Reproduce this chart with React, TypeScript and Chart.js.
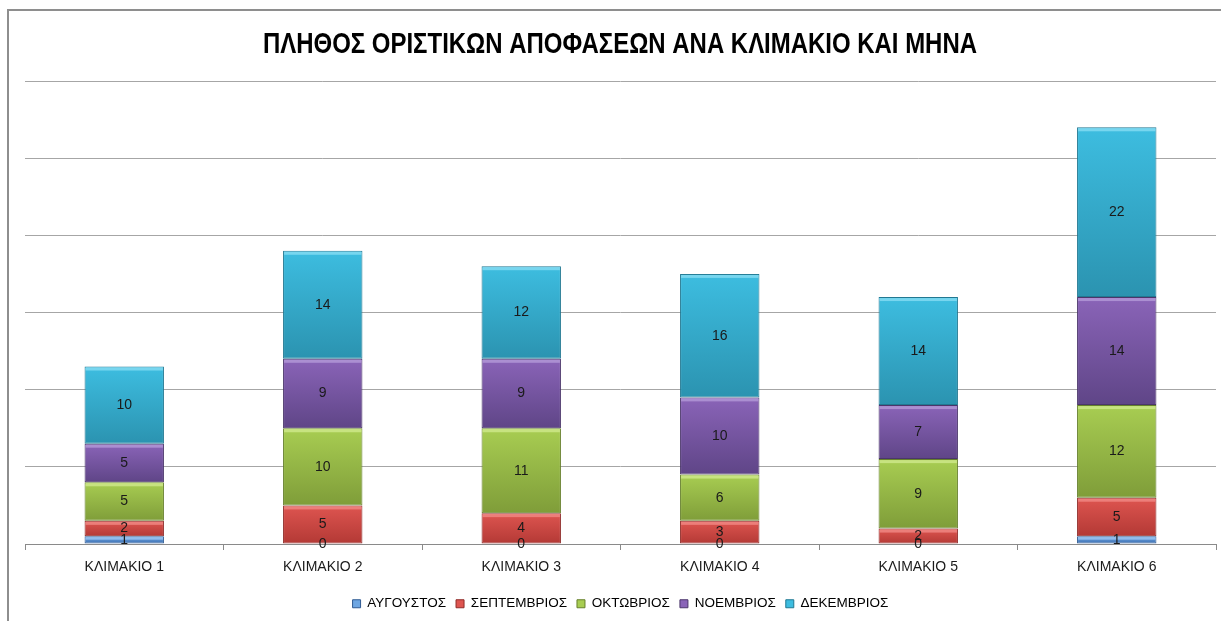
import React, { useEffect, useRef } from "react";
import { Chart, registerables } from "chart.js";

Chart.register(...registerables);

const TITLE = "ΠΛΗΘΟΣ ΟΡΙΣΤΙΚΩΝ ΑΠΟΦΑΣΕΩΝ ΑΝΑ ΚΛΙΜΑΚΙΟ ΚΑΙ ΜΗΝΑ";
const categories = ["ΚΛΙΜΑΚΙΟ 1", "ΚΛΙΜΑΚΙΟ 2", "ΚΛΙΜΑΚΙΟ 3", "ΚΛΙΜΑΚΙΟ 4", "ΚΛΙΜΑΚΙΟ 5", "ΚΛΙΜΑΚΙΟ 6"];
const seriesNames = ["ΑΥΓΟΥΣΤΟΣ", "ΣΕΠΤΕΜΒΡΙΟΣ", "ΟΚΤΩΒΡΙΟΣ", "ΝΟΕΜΒΡΙΟΣ", "ΔΕΚΕΜΒΡΙΟΣ"];
const august = [1, 0, 0, 0, 0, 1];
const september = [2, 5, 4, 3, 2, 5];
const october = [5, 10, 11, 6, 9, 12];
const november = [5, 9, 9, 10, 7, 14];
const december = [10, 14, 12, 16, 14, 22];
const yMin = 0;
const yMax = 60;
const yStep = 10;

const seriesValues = [august, september, october, november, december];
// [top colour, bottom colour, edge colour, highlight]
const palette = [
  ["#6ea6e2", "#3b6db0", "#2f5a92", "#9cc6f2"],
  ["#de5550", "#b33935", "#8f2b28", "#f08a86"],
  ["#a8cd52", "#7f9d39", "#66802c", "#cfe88c"],
  ["#8a64b8", "#5f4587", "#4b366b", "#b49ad8"],
  ["#3dbde0", "#2b93b0", "#217892", "#86dcf2"],
];

const FONT = "'Liberation Sans Narrow', 'Liberation Sans', 'DejaVu Sans Condensed', sans-serif";

export default function App() {
  const ref = useRef<HTMLCanvasElement>(null);

  useEffect(() => {
    document.body.style.margin = "0";
    const canvas = ref.current;
    if (!canvas) return;

    const bgPlugin = {
      id: "bgFrame",
      beforeDraw(chart: any) {
        const ctx = chart.ctx;
        ctx.save();
        ctx.fillStyle = "#ffffff";
        ctx.fillRect(0, 0, chart.width, chart.height);
        ctx.strokeStyle = "#8e8e8e";
        ctx.lineWidth = 2;
        ctx.strokeRect(8, 10, chart.width + 20, chart.height + 20);
        ctx.restore();
      },
      afterDraw(chart: any) {
        const ctx = chart.ctx;
        ctx.save();
        ctx.font = "bold 30px " + FONT;
        ctx.fillStyle = "#000000";
        ctx.textBaseline = "middle";
        ctx.textAlign = "center";
        const w = ctx.measureText(TITLE).width;
        const target = 714;
        ctx.translate(620, 45);
        ctx.scale(target / w, 1);
        ctx.fillText(TITLE, 0, 0);
        ctx.restore();
      },
    };

    const barDecor = {
      id: "barDecor",
      afterDatasetsDraw(chart: any) {
        const ctx = chart.ctx;
        ctx.save();
        chart.data.datasets.forEach((ds: any, di: number) => {
          const meta = chart.getDatasetMeta(di);
          meta.data.forEach((el: any, i: number) => {
            const v = ds.data[i];
            if (!v) return;
            const left = el.x - el.width / 2;
            const top = Math.min(el.y, el.base);
            const h = Math.abs(el.base - el.y);
            ctx.fillStyle = palette[di][3];
            ctx.globalAlpha = 0.8;
            ctx.fillRect(left + 1, top + 1, el.width - 2, Math.min(3, h / 3));
            ctx.globalAlpha = 1;
          });
        });
        ctx.font = "14px " + FONT;
        ctx.fillStyle = "#1a1a1a";
        ctx.textAlign = "center";
        ctx.textBaseline = "middle";
        chart.data.datasets.forEach((ds: any, di: number) => {
          const meta = chart.getDatasetMeta(di);
          meta.data.forEach((el: any, i: number) => {
            const v = ds.data[i];
            const cy = (el.y + el.base) / 2;
            ctx.fillText(String(v), el.x, cy);
          });
        });
        ctx.restore();
      },
    };

    const datasets = seriesNames.map((name, di) => ({
      label: name,
      data: seriesValues[di],
      backgroundColor: (c: any) => {
        const chart = c.chart;
        const area = chart.chartArea;
        if (!area || c.dataIndex === undefined) return palette[di][0];
        const ys = chart.scales.y;
        let below = 0;
        for (let k = 0; k < di; k++) below += seriesValues[k][c.dataIndex];
        const v = seriesValues[di][c.dataIndex];
        const yTop = ys.getPixelForValue(below + v);
        const yBot = ys.getPixelForValue(below);
        if (!isFinite(yTop) || !isFinite(yBot) || yTop === yBot) return palette[di][0];
        const g = chart.ctx.createLinearGradient(0, yTop, 0, yBot);
        g.addColorStop(0, palette[di][0]);
        g.addColorStop(1, palette[di][1]);
        return g;
      },
      borderColor: palette[di][2],
      borderWidth: 1,
      borderSkipped: false,
      barPercentage: 0.4,
      categoryPercentage: 1,
    }));

    const chart = new Chart(canvas, {
      type: "bar",
      data: { labels: categories, datasets },
      plugins: [bgPlugin, barDecor],
      options: {
        responsive: false,
        animation: false,
        layout: { padding: { top: 81, left: 25, right: 5, bottom: 0.5 } },
        plugins: {
          title: { display: false },
          tooltip: { enabled: false },
          legend: {
            position: "bottom",
            labels: {
              boxWidth: 8,
              boxHeight: 8,
              padding: 10,
              color: "#1a1a1a",
              font: { family: FONT, size: 13.5 },
              generateLabels: () =>
                seriesNames.map((n, i) => ({
                  text: n,
                  fillStyle: palette[i][0],
                  strokeStyle: palette[i][2],
                  lineWidth: 1,
                  datasetIndex: i,
                  hidden: false,
                })),
            },
          },
        },
        scales: {
          x: {
            stacked: true,
            grid: { drawOnChartArea: false, drawTicks: true, tickLength: 6, color: "#8a8a8a", offset: true },
            border: { display: true, color: "#8a8a8a", width: 1 },
            ticks: { color: "#1a1a1a", font: { family: FONT, size: 14 }, padding: 9, maxRotation: 0 },
            afterFit: (s: any) => {
              s.height = 43;
            },
          },
          y: {
            stacked: true,
            min: yMin,
            max: yMax,
            ticks: { display: false, stepSize: yStep },
            grid: { color: "#a6a6a6", drawTicks: false },
            border: { display: false },
          },
        },
      },
    });
    return () => chart.destroy();
  }, []);

  return (
    <div style={{ width: 1221, height: 621 }}>
      <canvas ref={ref} width={1221} height={621} style={{ display: "block" }} />
    </div>
  );
}
